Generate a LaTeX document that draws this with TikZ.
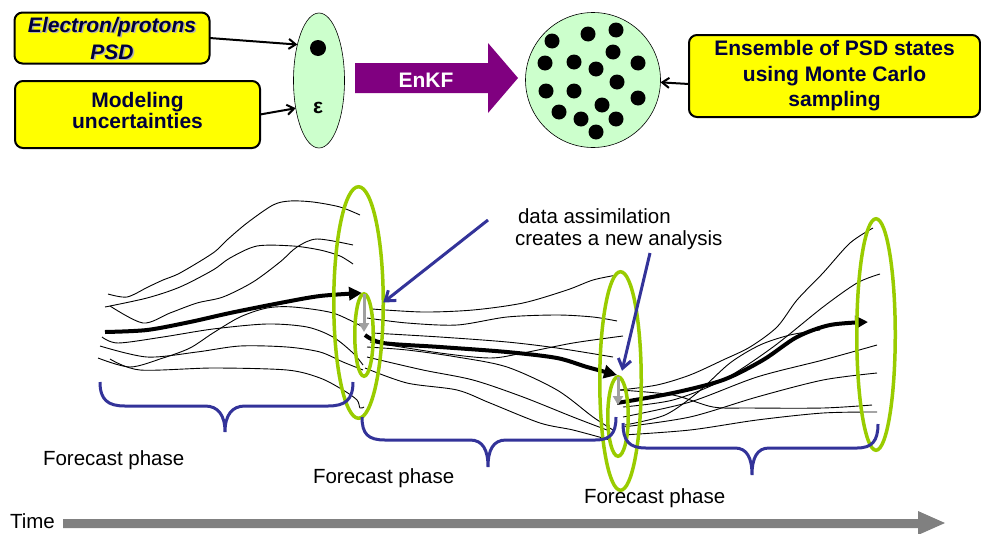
\documentclass[tikz,border=0pt]{standalone}
\usepackage{fontspec}
\setmainfont{Liberation Sans}
\usetikzlibrary{arrows.meta,shapes.geometric}
\definecolor{boxyellow}{RGB}{255,255,0}
\definecolor{palegreen}{RGB}{204,255,204}
\definecolor{ringgreen}{RGB}{153,204,0}
\definecolor{bracenavy}{RGB}{51,51,153}
\definecolor{enkfpurple}{RGB}{128,0,128}
\definecolor{textnavy}{RGB}{0,0,60}
\definecolor{timegray}{RGB}{128,128,128}
\definecolor{jumpgray}{RGB}{160,160,160}
\begin{document}
\begin{tikzpicture}[x=1pt, y=-1pt, inner sep=0pt, outer sep=0pt,
	boxfont/.style={font=\bfseries\fontsize{21}{21}\selectfont},
	slantfont/.style={font=\bfseries\itshape\fontsize{21}{21}\selectfont},
	yellowbox/.style={draw=black, line width=2pt, fill=boxyellow, rounded corners=8pt},
	navytext/.style={text=textnavy, align=center},
	plaintext/.style={anchor=base west, font=\fontsize{20.5}{22}\selectfont},
	barb/.style={draw=black, line width=2pt, -{Straight Barb[length=7pt,width=10pt]}},
	greenring/.style={ellipse, draw=ringgreen, line width=3.5pt},
	bluebrace/.style={draw=bracenavy, line width=3pt},
	bluearrow/.style={draw=bracenavy, line width=3pt, -{Straight Barb[length=9pt,width=13pt]}},
	grayarrow/.style={draw=jumpgray, line width=3pt, -{Triangle[length=9pt,width=10pt]}},
	thinline/.style={draw=black, line width=0.9pt},
	mainline/.style={draw=black, line width=4pt, -{Triangle[length=13pt,width=13pt]}}]
	\useasboundingbox (0,0) rectangle (981,533);
	% ensemble generation
	\node[yellowbox, minimum width=195pt, minimum height=51pt] (psdbox) at (112,38) {};
	\node[slantfont, text=black!30, align=center] (psdshadow) at (113.5,39.5) {Electron/protons\\[6pt]PSD};
	\node[slantfont, navytext] (psdtext) at (112,38) {Electron/protons\\[6pt]PSD};
	\node[yellowbox, minimum width=245pt, minimum height=67pt] (uncbox) at (137.5,114.5) {};
	\node[boxfont, navytext] (unctext) at (137.5,110) {Modeling\\uncertainties};
	\node[ellipse, draw=black, line width=0.6pt, fill=palegreen, minimum width=51pt, minimum height=135pt] (epsring) at (319,80.5) {};
	\node[circle, fill=black, minimum size=16pt] (psddot) at (318,48) {};
	\node[boxfont, text=black] (epssym) at (318,108) {ε};
	\draw[barb] (psdbox.east) -- (epsring.121);
	\draw[barb] (uncbox.east) -- (epsring.230);
	\fill[enkfpurple] (355,63) -- (488,63) -- (488,43) -- (518,78) -- (488,113) -- (488,93) -- (355,93) -- cycle;
	\node[boxfont, text=white] (enkf) at (426,80) {EnKF};
	\node[circle, draw=black, line width=0.6pt, fill=palegreen, minimum size=135pt] (enscircle) at (593,80) {};
	\foreach \dx/\dy in {552/41, 588/34, 616/30, 613/52, 545/63, 574/62, 596/69, 638/63, 617/82,
		546/91, 574/91, 638/98, 602/105, 559/112, 581/119, 616/119, 596/132}
		\fill[black] (\dx,\dy) circle (7.5);
	\node[yellowbox, boxfont, navytext, minimum width=291pt, minimum height=82pt] (mcbox) at (834.5,76)
		{Ensemble of PSD states\\[4.5pt]using Monte Carlo\\[4.5pt]sampling};
	\draw[barb] ([yshift=-8pt]mcbox.west) -- (enscircle.-2);
	% forecast phase 1
	\draw[thinline] plot[smooth] coordinates {(108,294) (127,297) (148,287) (163,280) (180,273) (213,253) (227,240) (247,223) (273,205) (290,201) (313,202) (340,207) (360,215)};
	\draw[thinline] plot[smooth] coordinates {(105,307) (147,298) (180,287) (213,270) (230,258) (257,246) (293,246) (320,250) (340,256) (353,264)};
	\draw[thinline] plot[smooth] coordinates {(110,306) (143,323) (170,313) (197,303) (223,297) (253,282) (280,262) (297,247) (317,239) (353,245)};
	\draw[thinline] plot[smooth] coordinates {(102,337) (118,343) (163,337) (213,329) (267,324) (307,327) (333,337) (353,353) (363,365)};
	\draw[thinline] plot[smooth] coordinates {(100,346) (147,357) (197,352) (240,346) (287,347) (320,352) (343,362) (363,370)};
	\draw[thinline] plot[smooth] coordinates {(110,359) (140,370) (213,368) (287,370) (320,378) (343,390) (357,400) (360,408) (364,407)};
	\draw[thinline] plot[smooth] coordinates {(98,358) (130,367) (163,358) (190,348) (213,333) (240,317) (267,308) (293,307) (333,313) (363,327)};
	\draw[mainline] plot[smooth] coordinates {(105,332) (147,330) (190,322) (230,313) (280,303) (320,296) (362,293)};
	% forecast phase 2
	\draw[thinline] plot[smooth] coordinates {(372,309) (423,312) (473,310) (523,303) (567,290) (593,280) (617,275)};
	\draw[thinline] plot[smooth] coordinates {(367,318) (407,323) (457,325) (507,317) (557,315) (593,317) (617,321)};
	\draw[thinline] plot[smooth] coordinates {(372,333) (440,337) (507,342) (557,348) (613,357)};
	\draw[thinline] plot[smooth] coordinates {(370,342) (440,353) (490,358) (523,353) (573,343) (623,336)};
	\draw[thinline] plot[smooth] coordinates {(367,347) (407,350) (457,357) (507,367) (557,390) (593,417) (613,430)};
	\draw[thinline] plot[smooth] coordinates {(367,357) (423,370) (473,380) (523,397) (573,417) (607,430)};
	\draw[thinline] plot[smooth] coordinates {(365,368) (407,383) (457,390) (490,403) (540,423) (573,430) (610,440)};
	\draw[mainline] plot[smooth] coordinates {(365,335) (383,343) (440,347) (507,352) (557,358) (587,367) (617,375)};
	% forecast phase 3
	\draw[thinline] plot[smooth] coordinates {(620,390) (657,385) (690,375) (723,360) (750,347) (777,327) (797,300) (823,273) (850,243) (873,228)};
	\draw[thinline] plot[smooth] coordinates {(623,407) (673,400) (723,380) (773,347) (823,307) (857,283) (880,274)};
	\draw[thinline] plot[smooth] coordinates {(623,417) (690,402) (757,377) (823,360) (877,345)};
	\draw[thinline] plot[smooth] coordinates {(623,427) (690,417) (757,397) (823,380) (877,373)};
	\draw[thinline] plot[smooth] coordinates {(620,390) (673,395) (713,407) (750,408) (823,408) (872,405)};
	\draw[thinline] plot[smooth] coordinates {(623,435) (690,430) (757,420) (823,413) (877,412)};
	\draw[thinline] plot[smooth] coordinates {(625,425) (665,415) (697,393) (730,363) (760,345) (790,335) (820,330)};
	\draw[mainline] plot[smooth] coordinates {(617,403) (673,393) (723,380) (763,360) (797,337) (830,325) (868,322)};
	% analysis rings
	\node[greenring, minimum width=49.5pt, minimum height=231.5pt] (e1big) at (358.5,302.5) {};
	\node[greenring, minimum width=18.5pt, minimum height=82.5pt] (e1small) at (364,335) {};
	\node[greenring, minimum width=41.5pt, minimum height=218.5pt] (e2big) at (620.5,381) {};
	\node[greenring, minimum width=20.5pt, minimum height=79.5pt] (e2small) at (618,416.5) {};
	\node[greenring, minimum width=38.5pt, minimum height=231.5pt] (e3big) at (876,334.5) {};
	\coordinate (jump1) at (364,332);
	\coordinate (jump2) at (618,405);
	\draw[grayarrow] (e1small.north) -- (jump1);
	\draw[grayarrow] (e2small.north) -- (jump2);
	% braces
	\path[bluebrace] (100,382) .. controls (100,400) and (108,406) .. (125,406) -- (205,406)
		.. controls (218,406) and (225,415) .. (225,432) .. controls (225,415) and (232,406) .. (245,406)
		-- (328,406) .. controls (345,406) and (353,400) .. (353,382);
	\path[bluebrace] (362,417) .. controls (362,434) and (368,440) .. (385,440) -- (470,440)
		.. controls (483,440) and (488,450) .. (488,467) .. controls (488,450) and (493,440) .. (506,440)
		-- (595,440) .. controls (610,440) and (616,434) .. (616,417);
	\path[bluebrace] (623,423) .. controls (623,441) and (629,448) .. (646,448) -- (735,448)
		.. controls (747,448) and (752,458) .. (752,475) .. controls (752,458) and (757,448) .. (769,448)
		-- (857,448) .. controls (872,448) and (878,441) .. (878,424);
	% labels
	\node[plaintext] (da1) at (518,223) {data assimilation};
	\node[plaintext] (da2) at (515,245) {creates a new analysis};
	\coordinate (tail1) at (488,220);
	\coordinate (tail2) at (650,253);
	\draw[bluearrow] (tail1) -- (e1big.east);
	\draw[bluearrow] (tail2) -- ([shift={(4pt,6pt)}]e2small.north);
	\node[plaintext] (fp1) at (43,465) {Forecast phase};
	\node[plaintext] (fp2) at (313,483) {Forecast phase};
	\node[plaintext] (fp3) at (584,503) {Forecast phase};
	\node[plaintext] (timetext) at (10,528) {Time};
	\fill[timegray] (63,519) -- (918,519) -- (918,511) -- (945,523) -- (918,535) -- (918,528) -- (63,528) -- cycle;
\end{tikzpicture}
\end{document}
